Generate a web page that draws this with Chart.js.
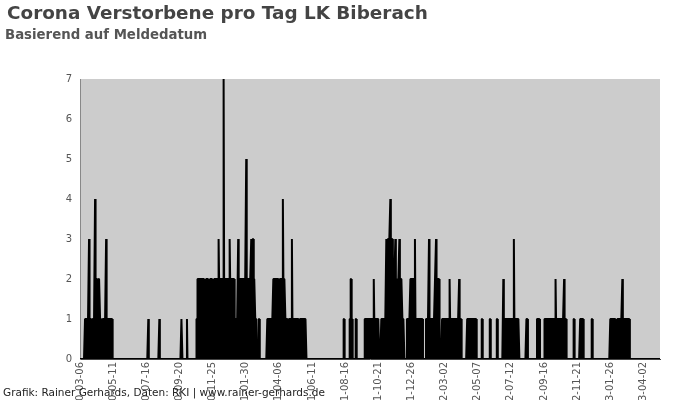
<!DOCTYPE html>
<html>
<head>
<meta charset="utf-8">
<script src="https://cdn.jsdelivr.net/npm/chart.js@4/dist/chart.umd.min.js"></script>
<style>
  html, body { margin: 0; padding: 0; background: #fff; }
  #wrap { width: 700px; height: 400px; }
</style>
</head>
<body>
<div id="wrap"><canvas id="deathsChart" width="700" height="400"></canvas></div>
<script>
// Corona deaths per day, LK Biberach (by reporting date)

const chartTitle = "Corona Verstorbene pro Tag LK Biberach";
const chartSubtitle = "Basierend auf Meldedatum";
const footerText = "Grafik: Rainer Gerhards, Daten: RKI | www.rainer-gerhards.de";

const startDate = "2020-03-06";
const dayCount = 1156;

// dates that get a label on the x axis
const tickLabels = [
  "2020-03-06", "2020-05-11", "2020-07-16", "2020-09-20", "2020-11-25", "2021-01-30",
  "2021-04-06", "2021-06-11", "2021-08-16", "2021-10-21", "2021-12-26", "2022-03-02",
  "2022-05-07", "2022-07-12", "2022-09-16", "2022-11-21", "2023-01-26", "2023-04-02",
];

const yTicks = [0, 1, 2, 3, 4, 5, 6, 7];

// deaths, as runs of consecutive days: first day (offset from startDate) + daily counts
// every day outside a run had no reported death
const runStart = [10, 136, 158, 202, 213, 232, 356, 373, 525, 537, 549, 567, 600, 651,
  689, 721, 771, 800, 816, 830, 843, 889, 910, 925, 983, 996, 1019, 1056];

const runCounts = [
  [1,1,1,1,1,1,1,1,3,1, 1,1,1,1,0,1,1,1,1,1, 4,2,2,2,2,2,1,2,2,2,
   1,1,1,1,0,1,1,1,1,1, 1,1,3,1,1,1,1,1,1,1, 1,1,1,1,1],
  [1],
  [1],
  [1,1],
  [1],
  [1,1,2,2,1,2,2,2,1,2, 2,2,1,2,2,2,1,1,1,2, 2,2,2,2,2,1,1,2,2,2,
   2,2,2,1,1,2,2,2,2,2, 1,2,2,2,3,2,2,2,2,2, 2,2,2,2,7,2,2,2,2,2,
   1,2,2,2,2,2,3,2,2,2, 1,2,2,2,2,2,1,1,1,1, 1,1,1,3,1,1,2,2,2,2,
   2,2,1,2,2,2,2,2,2,5, 2,2,2,2,2,2,2,2,2,3, 3,2,3,3,2,2,2,1,1,1, 1],
  [1,1],
  [1,1,1,1,1,1,1,1,1,1, 1,1,2,2,2,2,2,2,2,2, 2,2,2,2,1,2,2,2,2,2,
   2,4,2,2,2,2,1,1,1,1, 1,1,0,1,1,1,1,1,1,3, 1,1,1,1,1,1,1,1,1,1,
   1,1,1,1,0,1,1,1,1,1, 1,1,1,1,1,1,1,1],
  [1,1],
  [1,1,2,2,1,1],
  [1,1],
  [1,1,1,1,1,1,1,1,1,1, 1,1,1,1,1,1,1,1,2,1, 1,1,1,1,1,1,1,1,1],
  [1,1,1,1,1,1,1,1,1,1, 3,3,2,3,3,3,3,3,4,3, 3,3,3,2,2,2,2,2,3,2,
   2,2,1,2,2,2,3,2,2,2, 2,2,1,1,1,1],
  [1,1,1,1,1,1,1,2,2,2, 2,2,2,2,2,2,3,1,1,1, 1,1,1,1,1,1,1,1,1,1, 1,1],
  [1,1,1,1,1,1,3,1,1,1, 1,1,1,1,1,1,1,1,2,2, 3,2,2,2,2,2,2],
  [1,1,1,1,1,1,1,1,1,1, 1,1,1,1,1,2,1,1,1,1, 1,1,1,1,1,1,1,1,1,1,
   1,1,1,1,2,1,1,1,1],
  [1,1,1,1,1,1,1,1,1,1, 1,1,1,1,1,1,1,1,1],
  [1,1],
  [1,1],
  [1,1],
  [2,1,1,1,1,1,1,1,1,1, 1,1,1,1,1,1,1,1,1,1, 1,3,1,1,1,1,1,1,1,1, 1,1],
  [1,1,1],
  [1,1,1,1,1,1],
  [1,1,1,1,1,1,1,1,1,1, 1,1,1,1,1,1,1,1,1,1, 1,1,2,1,1,1,1,1,1,1,
   1,1,1,1,1,1,1,1,1,2, 1,1,1,1],
  [1,1],
  [1,1,1,1,1,1,1],
  [1,1],
  [1,1,1,1,1,1,1,1,1,1, 1,1,0,0,1,1,1,1,1,1, 1,1,1,1,2,1,1,1,1,1,
   1,1,1,1,1,1,1,1,1],
];

/* ===================== Build series ===================== */

function buildLabels() {
  const t0 = Date.parse(startDate + "T00:00:00Z");
  const out = [];
  for (let i = 0; i < dayCount; i++) {
    out.push(new Date(t0 + i * 86400000).toISOString().slice(0, 10));
  }
  return out;
}

function buildDeaths() {
  const out = new Array(dayCount).fill(0);
  runStart.forEach((start, r) => {
    runCounts[r].forEach((n, k) => { out[start + k] = n; });
  });
  return out;
}

const dayLabels = buildLabels();
const deaths = buildDeaths();

/* ===================== Plugins ===================== */

// white page + grey plot area
const backdrop = {
  id: "backdrop",
  beforeDraw(chart) {
    const { ctx, chartArea: a } = chart;
    ctx.save();
    ctx.fillStyle = "#ffffff";
    ctx.fillRect(0, 0, chart.width, chart.height);
    ctx.fillStyle = "#cccccc";
    ctx.fillRect(a.left, a.top, a.right - a.left, a.bottom - a.top);
    ctx.restore();
  },
};

// title, subtitle and source line
const captions = {
  id: "captions",
  afterDraw(chart) {
    const { ctx } = chart;
    ctx.save();
    ctx.textAlign = "left";
    ctx.textBaseline = "alphabetic";
    ctx.fillStyle = "#444444";
    ctx.font = "bold 18.4px 'DejaVu Sans'";
    ctx.fillText(chartTitle, 7, 19);
    ctx.fillStyle = "#555555";
    ctx.font = "bold 13.3px 'DejaVu Sans'";
    ctx.fillText(chartSubtitle, 5, 39);
    ctx.fillStyle = "#222222";
    ctx.font = "10.5px 'DejaVu Sans'";
    ctx.fillText(footerText, 3, 396);
    ctx.restore();
  },
};

/* ===================== Chart ===================== */

const tickFont = { family: "'DejaVu Sans'", size: 10 };

new Chart(document.getElementById("deathsChart"), {
  type: "line",
  data: {
    labels: dayLabels,
    datasets: [
      {
        label: "Verstorbene",
        data: deaths,
        borderColor: "#000000",
        backgroundColor: "#000000",
        borderWidth: 2,
        borderJoinStyle: "bevel",
        pointRadius: 0,
        tension: 0,
        fill: "origin",
      },
    ],
  },
  options: {
    responsive: false,
    animation: false,
    layout: { padding: { top: 79, right: 40, left: 0, bottom: 0 } },
    plugins: {
      legend: { display: false },
      tooltip: { enabled: false },
    },
    scales: {
      x: {
        grid: { display: false, drawTicks: false },
        border: { display: true, color: "#444444", width: 1 },
        ticks: {
          autoSkip: false,
          minRotation: 90,
          maxRotation: 90,
          padding: 3,
          color: "#555555",
          font: tickFont,
          callback(value) {
            const label = this.getLabelForValue(value);
            return tickLabels.includes(label) ? label : null;
          },
        },
        afterFit(scale) { scale.height = 41; },
      },
      y: {
        min: yTicks[0],
        max: yTicks[yTicks.length - 1],
        grid: { display: false, drawTicks: false },
        border: { display: true, color: "#888888", width: 1 },
        ticks: { stepSize: 1, padding: 8, color: "#555555", font: tickFont },
        afterFit(scale) { scale.width = 80; },
      },
    },
  },
  plugins: [backdrop, captions],
});
</script>
</body>
</html>
